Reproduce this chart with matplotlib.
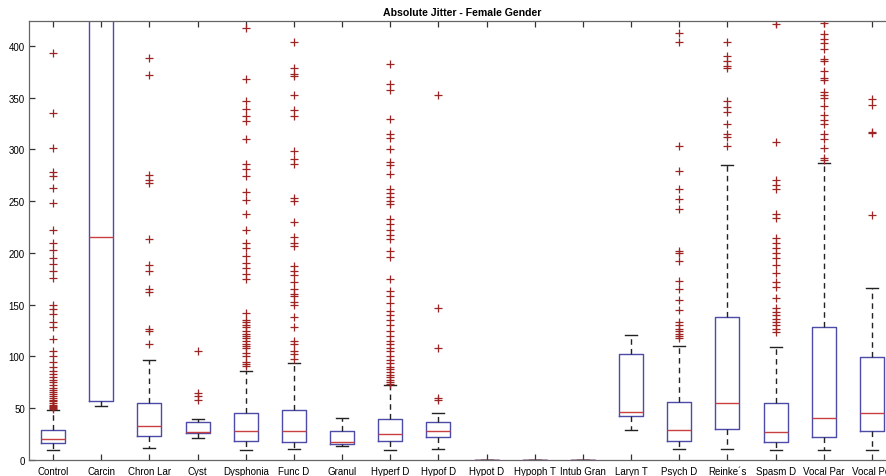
import matplotlib
matplotlib.use('Agg')
import matplotlib.pyplot as plt

plt.rcParams['font.family'] = ['Liberation Sans', 'DejaVu Sans']

# categories and box statistics (values in jitter units)
categories = ['Control', 'Carcin', 'Chron Lar', 'Cyst', 'Dysphonia', 'Func D',
              'Granul', 'Hyperf D', 'Hypof D', 'Hypot D', 'Hypoph T', 'Intub Gran',
              'Laryn T', 'Psych D', "Reinke´s", 'Spasm D', 'Vocal Par', 'Vocal Pol']

q1 =      [16,   56.6, 23.5, 26,   18.3, 17.7, 15.4, 18,   22.5, 0, 0, 0, 42.2, 18.3, 30,    17.7, 21.8, 27.7]
median =  [20,  215.6, 33,   27.5, 28,   27.7, 17.7, 25,   28.3, 0, 0, 0, 46.6, 29.3, 55,    27.4, 40.5, 45.4]
q3 =      [29,   470,  55,   36.4, 45.4, 48.3, 28.3, 39.6, 36.4, 0, 0, 0, 102.3, 56,  138.4, 55,   128,  99]
whis_lo = [9.3,  52.4, 11.3, 21,   9.3,  10.3, 13.8, 9.3,  10.6, 0, 0, 0, 29,   10.6, 10.6,  10,   10,   10]
whis_hi = [48,   520,  97,   40,   86,   94,   40.5, 72.7, 45,   0, 0, 0, 121,  110.4, 285,  109.4, 286.7, 166]

outliers = [
    # Control
    [49, 50, 51, 52, 53, 55, 57, 58, 60, 62, 64, 66, 68, 70, 72, 75, 77, 80, 83,
     86, 90, 95, 100, 105, 117, 128, 133, 141, 146, 150, 176, 183, 189, 195, 203,
     210, 222, 248, 263, 274, 278, 301, 335, 393],
    # Carcin
    [],
    # Chron Lar
    [112, 125, 127, 162, 165, 183, 188, 213, 268, 270, 275, 372, 388],
    # Cyst
    [58, 62, 65, 105],
    # Dysphonia
    [91, 93, 95, 100, 103, 108, 110, 112, 115, 118, 120, 122, 125, 128, 130, 133,
     135, 142, 175, 180, 185, 190, 197, 205, 210, 222, 238, 251, 259, 274, 281,
     286, 310, 327, 332, 339, 347, 368, 417],
    # Func D
    [98, 102, 105, 112, 115, 128, 138, 150, 153, 158, 160, 165, 172, 179, 183,
     187, 207, 210, 215, 230, 250, 253, 286, 291, 298, 332, 338, 353, 371, 373,
     379, 404],
    # Granul
    [],
    # Hyperf D
    [73, 75, 77, 80, 82, 85, 88, 90, 94, 97, 100, 105, 108, 112, 115, 120, 125,
     130, 135, 140, 144, 152, 158, 163, 175, 196, 202, 213, 217, 222, 228, 233,
     247, 250, 254, 258, 262, 276, 285, 288, 300, 311, 315, 329, 357, 363, 382],
    # Hypof D
    [58, 60, 108, 147, 353],
    # Hypot D, Hypoph T, Intub Gran
    [], [], [],
    # Laryn T
    [],
    # Psych D
    [118, 120, 122, 125, 127, 130, 133, 145, 155, 165, 173, 192, 200, 202, 242,
     252, 262, 279, 303, 404, 412],
    # Reinke's
    [303, 312, 315, 325, 336, 341, 347, 379, 381, 385, 390, 404],
    # Spasm D
    [124, 127, 130, 133, 136, 140, 143, 147, 156, 167, 172, 181, 188, 195, 200,
     205, 210, 214, 234, 238, 262, 266, 270, 307, 421],
    # Vocal Par
    [290, 292, 301, 310, 315, 325, 328, 333, 342, 350, 353, 355, 367, 369, 376,
     385, 387, 397, 403, 407, 411, 422],
    # Vocal Pol
    [237, 316, 317, 343, 349],
]

stats = []
for i, name in enumerate(categories):
    stats.append({'label': name, 'q1': q1[i], 'med': median[i], 'q3': q3[i],
                  'whislo': whis_lo[i], 'whishi': whis_hi[i], 'fliers': outliers[i]})

fig = plt.figure(figsize=(8.87, 4.77), dpi=100)
# axes runs slightly past the right edge, the reference is cropped there
ax = fig.add_axes([29 / 887, 16 / 477, 867 / 887, 439 / 477])

ax.bxp(stats, widths=0.5, showfliers=True,
       boxprops=dict(color='#4b4ba8', linewidth=1.0),
       medianprops=dict(color='#c84040', linewidth=1.0),
       whiskerprops=dict(color='#222222', linewidth=1.0, linestyle=(0, (4, 3))),
       capprops=dict(color='#222222', linewidth=1.0),
       flierprops=dict(marker='+', markeredgecolor='#9e2424', markersize=5.5,
                       markeredgewidth=0.9, linestyle='none'))

ax.set_xlim(0.5, 18.5)
ax.set_ylim(0, 424)
ax.set_yticks(range(0, 401, 50))
ax.tick_params(axis='both', direction='in', length=4, width=0.9, color='#333333',
               labelsize=7, top=True, right=True)
ax.tick_params(axis='x', pad=4.5)
ax.tick_params(axis='y', pad=3)
for sp in ax.spines.values():
    sp.set_color('#666666')
    sp.set_linewidth(0.9)

ax.set_title('Absolute Jitter - Female Gender', fontsize=7.6, fontweight='bold', pad=4)

plt.savefig('out.png', dpi=100)
